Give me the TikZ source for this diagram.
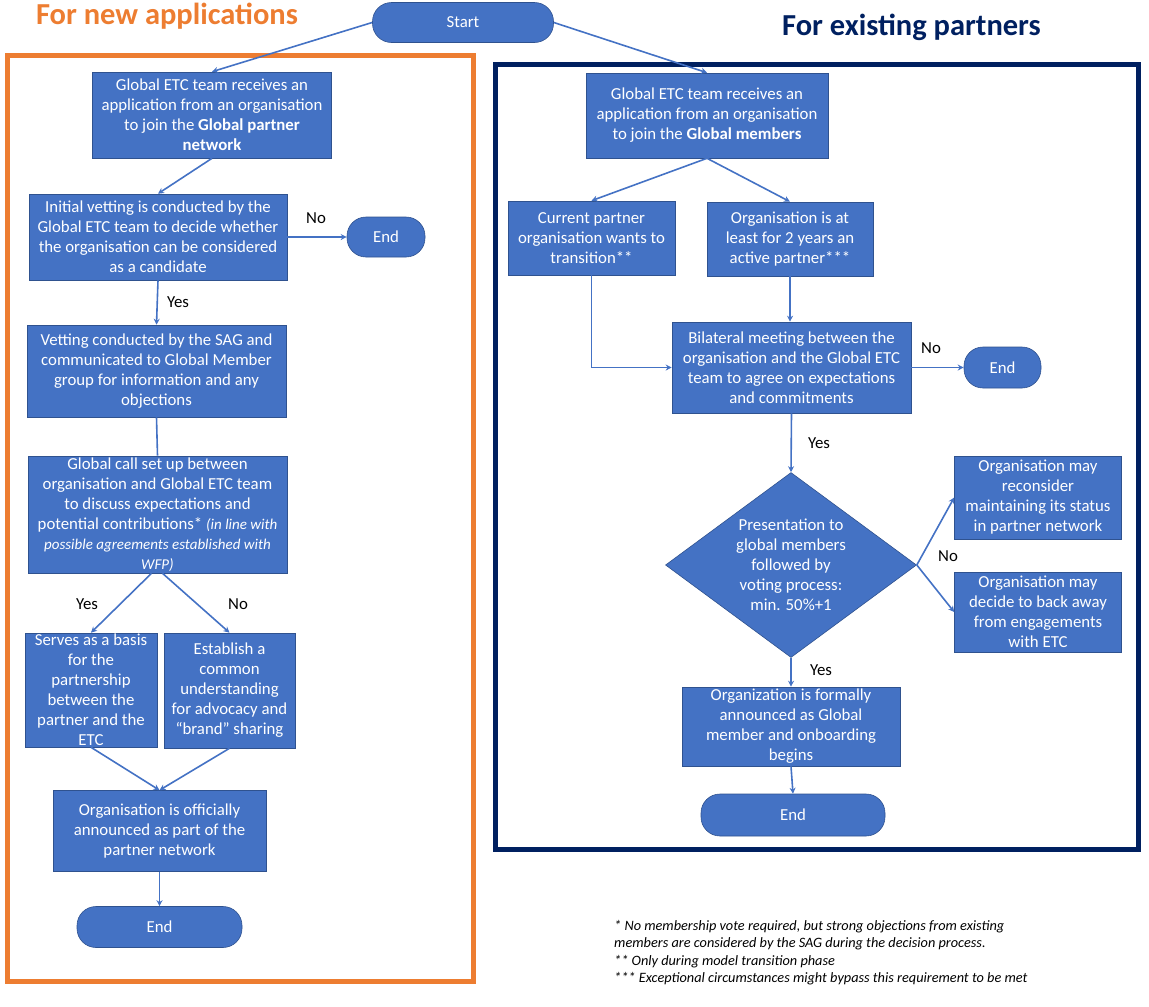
\documentclass[tikz,border=0pt]{standalone}
\usepackage{fontspec}
\setmainfont{Carlito}
\usepackage{tikz}
\usetikzlibrary{arrows.meta,shapes.geometric}
\definecolor{boxblue}{HTML}{4472C4}
\definecolor{boxedge}{HTML}{2F528F}
\definecolor{neworange}{HTML}{ED7D31}
\definecolor{oldnavy}{HTML}{002060}
\newcommand{\framewidth}{5pt}
\newcommand{\boxfont}{\fontsize{16.8}{20}\selectfont}
\newcommand{\smallit}{\fontsize{15}{19}\selectfont\itshape}
\newcommand{\titlefont}{\fontsize{30.5}{34}\selectfont\bfseries}
\newcommand{\notefont}{\fontsize{14.3}{17.5}\selectfont\itshape}
\tikzset{
box/.style={draw=boxedge, line width=0.6pt, fill=boxblue, text=white, align=center, font=\boxfont, inner sep=1pt},
term/.style={box, rounded corners=19pt},
vote/.style={box, diamond, aspect=1.36, inner sep=0pt},
arr/.style={draw=boxblue, line width=1.6pt, -{Stealth[length=6pt,width=6pt]}},
lbl/.style={font=\boxfont, text=black, inner sep=0pt},
}

\begin{document}
\begin{tikzpicture}[x=1pt, y=-1pt]
\useasboundingbox (0, 0) rectangle (1149, 1007);
%frames
\draw[neworange, line width=\framewidth] (7, 55) rectangle (473.5, 981);
\draw[oldnavy, line width=\framewidth] (495, 64) rectangle (1138.5, 849.5);
\node[text=neworange, font=\titlefont, anchor=base] (newtitle) at (167, 24) {For new applications};
\node[text=oldnavy, font=\titlefont, anchor=base] (oldtitle) at (911.5, 35) {For existing partners};
\node[term] (start) at (463, 22.5) [minimum width=181pt, minimum height=40pt] {Start};
%new applications
\node[box] (a1) at (212, 115) [minimum width=239pt, minimum height=86pt] {Global ETC team receives an\\application from an organisation\\to join the \textbf{Global partner}\\\textbf{network}};
\node[box] (b1) at (158, 237) [minimum width=258pt, minimum height=86pt] {Initial vetting is conducted by the\\Global ETC team to decide whether\\the organisation can be considered\\as a candidate};
\node[term] (endb) at (386, 237) [minimum width=78pt, minimum height=40pt] {End};
\node[box] (c1) at (156.5, 371) [minimum width=259pt, minimum height=92pt] {Vetting conducted by the SAG and\\communicated to Global Member\\group for information and any\\objections};
\node[box] (c2) at (157.5, 514.5) [minimum width=259pt, minimum height=117pt, inner ysep=0pt] {Global call set up between\\organisation and Global ETC team\\to discuss expectations and\\potential contributions* {\smallit (in line with}\\{\smallit possible agreements established with}\\{\smallit WFP)}};
\node[box] (d1) at (91, 690) [minimum width=132pt, minimum height=114pt, inner ysep=0pt] {Serves as a basis\\for the\\partnership\\between the\\partner and the\\ETC};
\node[box] (d2) at (229.5, 690.5) [minimum width=131pt, minimum height=115pt] {Establish a\\common\\understanding\\for advocacy and\\“brand” sharing};
\node[box] (e1) at (159.5, 831) [minimum width=213pt, minimum height=81pt] {Organisation is officially\\announced as part of the\\partner network};
\node[term] (ende) at (159.5, 927) [minimum width=165pt, minimum height=41pt] {End};
%existing partners
\node[box] (a2) at (707, 115.5) [minimum width=242pt, minimum height=85pt] {Global ETC team receives an\\application from an organisation\\to join the \textbf{Global members}};
\node[box] (p1) at (591.5, 238) [minimum width=167pt, minimum height=74pt] {Current partner\\organisation wants to\\transition**};
\node[box] (p2) at (790, 239) [minimum width=166pt, minimum height=74pt] {Organisation is at\\least for 2 years an\\active partner***};
\node[box] (q) at (791.5, 367.5) [minimum width=239pt, minimum height=91pt] {Bilateral meeting between the\\organisation and the Global ETC\\team to agree on expectations\\and commitments};
\node[term] (endq) at (1002.5, 367.5) [minimum width=77pt, minimum height=41pt] {End};
\node[vote] (vote) at (791, 565) [minimum width=251pt, minimum height=185pt] {Presentation to\\global members\\followed by\\voting process:\\min. 50\%+1};
\node[box] (r1) at (1038, 497.5) [minimum width=167pt, minimum height=83pt] {Organisation may\\reconsider\\maintaining its status\\in partner network};
\node[box] (r2) at (1038, 612) [minimum width=167pt, minimum height=80pt] {Organisation may\\decide to back away\\from engagements\\with ETC};
\node[box] (s) at (791, 726.5) [minimum width=218pt, minimum height=79pt] {Organization is formally\\announced as Global\\member and onboarding\\begins};
\node[term] (endv) at (793, 815) [minimum width=184pt, minimum height=42pt] {End};
%labels
\node[lbl] (nob) at (316, 218) {No};
\node[lbl] (yesb) at (178, 302) {Yes};
\node[lbl] (yesc) at (87, 604) {Yes};
\node[lbl] (noc) at (238, 604) {No};
\node[lbl] (noq) at (931, 348) {No};
\node[lbl] (yesq) at (819, 443) {Yes};
\node[lbl] (novote) at (948, 556) {No};
\node[lbl] (yesvote) at (821, 670) {Yes};
%notes
\node[font=\notefont, align=left, anchor=north west, inner sep=0pt] (notes) at (614, 920) {* No membership vote required, but strong objections from existing\\members are considered by the SAG during the decision process.\\** Only during model transition phase\\*** Exceptional circumstances might bypass this requirement to be met};
%connectors
\draw[arr] (start.west) -- (a1.north);
\draw[arr] (start.east) -- (a2.north);
\draw[arr] (a1.south) -- (b1.north);
\draw[arr] (b1.east) -- (endb.west);
\draw[arr] (b1.south) -- (c1.north);
\draw[draw=boxblue, line width=1.6pt] (c1.south) -- (c2.north);
\draw[arr] ([xshift=-6pt]c2.south) -- (d1.north);
\draw[arr] ([xshift=5pt]c2.south) -- (d2.north);
\draw[arr] (d1.south) -- (e1.north);
\draw[arr] (d2.south) -- (e1.north);
\draw[arr] (e1.south) -- (ende.north);
\draw[arr] (a2.south) -- (p1.north);
\draw[arr] (a2.south) -- (p2.north);
\draw[arr] (p1.south) |- (q.west);
\draw[arr] (p2.south) -- (p2.south |- q.north);
\draw[arr] (q.east) -- (endq.west);
\draw[arr] (q.south) -- (vote.north);
\draw[arr] (vote.east) -- (r1.west);
\draw[arr] (vote.east) -- (r2.west);
\draw[arr] (vote.south) -- (s.north);
\draw[arr] (s.south) -- (endv.north);
\end{tikzpicture}
\end{document}
